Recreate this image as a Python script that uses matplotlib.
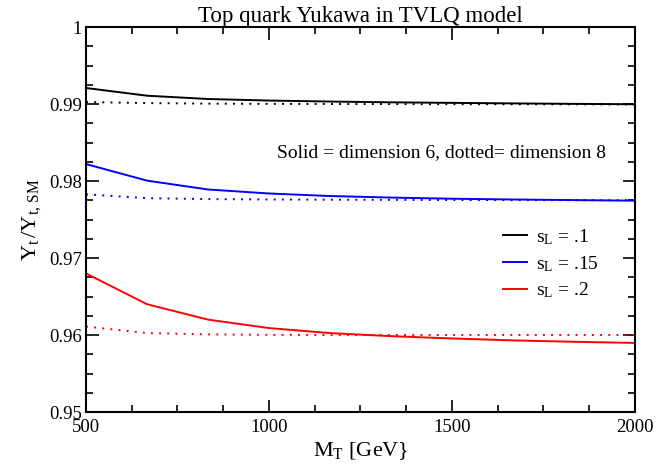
import numpy as np
import matplotlib
matplotlib.use("Agg")
import matplotlib.pyplot as plt
from matplotlib.ticker import MultipleLocator, FuncFormatter

plt.rcParams['font.family'] = 'Liberation Serif'
plt.rcParams['mathtext.fontset'] = 'custom'
plt.rcParams['mathtext.rm'] = 'Liberation Serif'
plt.rcParams['mathtext.it'] = 'Liberation Serif:italic'

# heavy top partner mass [GeV]
mt = [500, 666.7, 833.3, 1000, 1166.7, 1333.3, 1500, 1666.7, 1833.3, 2000]

# dimension 6 (solid)
d6_s010 = [0.99208, 0.99108, 0.99065, 0.99045, 0.99032, 0.99022, 0.99015, 0.99008, 0.99002, 0.98997]
d6_s015 = [0.98220, 0.98005, 0.97890, 0.97838, 0.97805, 0.97785, 0.97770, 0.97760, 0.97752, 0.97745]
d6_s020 = [0.96800, 0.96400, 0.96200, 0.96090, 0.96025, 0.95985, 0.95955, 0.95930, 0.95912, 0.95897]

# dimension 8 (dotted)
d8_s010 = [0.99026, 0.99012, 0.99005, 0.99002, 0.99000, 0.98999, 0.98998, 0.98997, 0.98996, 0.98995]
d8_s015 = [0.97827, 0.97777, 0.97765, 0.97760, 0.97757, 0.97755, 0.97753, 0.97752, 0.97751, 0.97750]
d8_s020 = [0.96110, 0.96025, 0.96008, 0.96002, 0.96000, 0.96000, 0.96000, 0.96000, 0.96000, 0.96000]

labels = [r'$\mathrm{s_L}$ = .1', r'$\mathrm{s_L}$ = .15', r'$\mathrm{s_L}$ = .2']
colors = ['black', 'blue', 'red']

fig = plt.figure(figsize=(6.57, 4.74), dpi=100)
ax = fig.add_axes([0.1309, 0.1308, 0.8356, 0.8122])

for sol, dot, c, lab in zip([d6_s010, d6_s015, d6_s020],
                            [d8_s010, d8_s015, d8_s020], colors, labels):
    ax.plot(mt, sol, color=c, lw=1.4, label=lab)
    ax.plot(mt, dot, color=c, lw=1.4, linestyle=(0, (1, 3.2)))

ax.set_xlim(500, 2000)
ax.set_ylim(0.95, 1.0)
ax.xaxis.set_major_locator(MultipleLocator(500))
ax.xaxis.set_minor_locator(MultipleLocator(125))
ax.yaxis.set_major_locator(MultipleLocator(0.01))
ax.yaxis.set_minor_locator(MultipleLocator(0.0025))
ax.yaxis.set_major_formatter(FuncFormatter(lambda v, p: '1' if abs(v - 1) < 1e-9 else f'{v:.2f}'))
ax.tick_params(which='both', direction='in', top=True, right=True, labelsize=13.5, width=1.2)
ax.tick_params(which='major', length=9)
ax.tick_params(which='minor', length=5)
ax.tick_params(axis='x', pad=5)
ax.tick_params(axis='y', pad=3)
for s in ax.spines.values():
    s.set_linewidth(1.5)

ax.set_title('Top quark Yukawa in TVLQ model', fontsize=16.5, pad=3)
ax.set_xlabel(r'$\mathrm{M_T}$ [GeV}', fontsize=16, labelpad=3)
ax.set_ylabel(r'$\mathrm{Y_t\,/Y_{t,\,SM}}$', fontsize=16, labelpad=4)

ax.text(0.648, 0.673, 'Solid = dimension 6, dotted= dimension 8',
        transform=ax.transAxes, ha='center', va='center', fontsize=14)

ax.legend(loc='upper left', bbox_to_anchor=(0.76, 0.48), frameon=False,
          fontsize=14, handlelength=1.2, handletextpad=0.5, labelspacing=0.36,
          borderaxespad=0, borderpad=0)

fig.savefig('out.png', dpi=100)
